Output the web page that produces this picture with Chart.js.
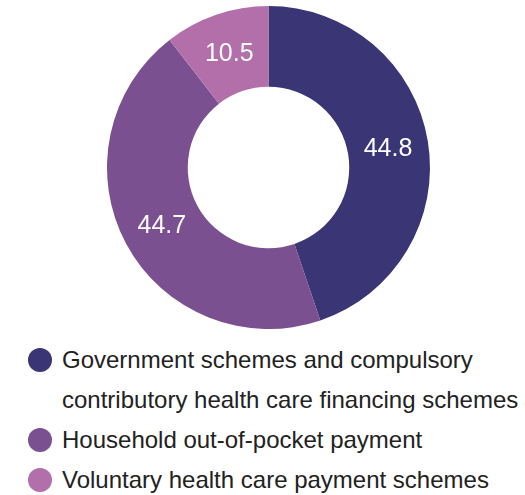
<!DOCTYPE html>
<html lang="en">
<head>
    <meta charset="UTF-8">
    <title>Health care financing schemes</title>
    <style>
        body {
            margin: 0;
            background: #fff;
            font-family: "Liberation Sans", Arial, sans-serif;
        }
        .wrap {
            position: relative;
            width: 525px;
            height: 495px;
        }
        .chart-box {
            position: absolute;
            left: 0;
            top: 0;
            width: 525px;
            height: 335px;
        }
        .legend {
            position: absolute;
            left: 0;
            top: 340px;
            list-style: none;
            margin: 0;
            padding: 0;
            font-size: 24px;
            line-height: 40px;
            color: #222;
        }
        .legend li {
            position: relative;
            padding-left: 62px;
            white-space: nowrap;
        }
        .legend .dot {
            position: absolute;
            left: 28px;
            top: 8px;
            width: 24px;
            height: 24px;
            border-radius: 50%;
        }
    </style>
    <script src="https://cdn.jsdelivr.net/npm/chart.js@4.4.1/dist/chart.umd.min.js"></script>
</head>
<body>
    <div class="wrap">
        <div class="chart-box">
            <canvas id="donut"></canvas>
        </div>
        <ul class="legend" id="legend"></ul>
    </div>

    <script>
        // Share of current health expenditure by financing scheme (%)
        const categories = [
            ['Government schemes and compulsory', 'contributory health care financing schemes'],
            ['Household out-of-pocket payment'],
            ['Voluntary health care payment schemes']
        ];
        const shares = [44.8, 44.7, 10.5];
        const colors = ['#3a3575', '#7b5090', '#b26fa9'];

        // white value text in the middle of each ring segment
        const sliceValues = {
            id: 'sliceValues',
            afterDatasetsDraw(chart) {
                const ctx = chart.ctx;
                const meta = chart.getDatasetMeta(0);
                ctx.save();
                ctx.fillStyle = '#fff';
                ctx.font = '25px "Liberation Sans", Arial, sans-serif';
                ctx.textAlign = 'center';
                ctx.textBaseline = 'middle';
                meta.data.forEach((arc, i) => {
                    const p = arc.tooltipPosition();
                    ctx.fillText(shares[i].toFixed(1), p.x, p.y + 1);
                });
                ctx.restore();
            }
        };

        new Chart(document.getElementById('donut'), {
            type: 'doughnut',
            data: {
                labels: categories.map(c => c.join(' ')),
                datasets: [{
                    data: shares,
                    backgroundColor: colors,
                    borderWidth: 0
                }]
            },
            options: {
                responsive: true,
                maintainAspectRatio: false,
                animation: false,
                cutout: '50%',
                layout: {
                    padding: { left: 12, right: 0, top: 6, bottom: 6 }
                },
                plugins: {
                    legend: { display: false },
                    tooltip: { enabled: false }
                }
            },
            plugins: [sliceValues]
        });

        // legend list under the ring
        const legend = document.getElementById('legend');
        categories.forEach((lines, i) => {
            const li = document.createElement('li');
            const dot = document.createElement('span');
            dot.className = 'dot';
            dot.style.background = colors[i];
            li.appendChild(dot);
            lines.forEach((line, j) => {
                if (j > 0) li.appendChild(document.createElement('br'));
                li.appendChild(document.createTextNode(line));
            });
            legend.appendChild(li);
        });
    </script>
</body>
</html>
